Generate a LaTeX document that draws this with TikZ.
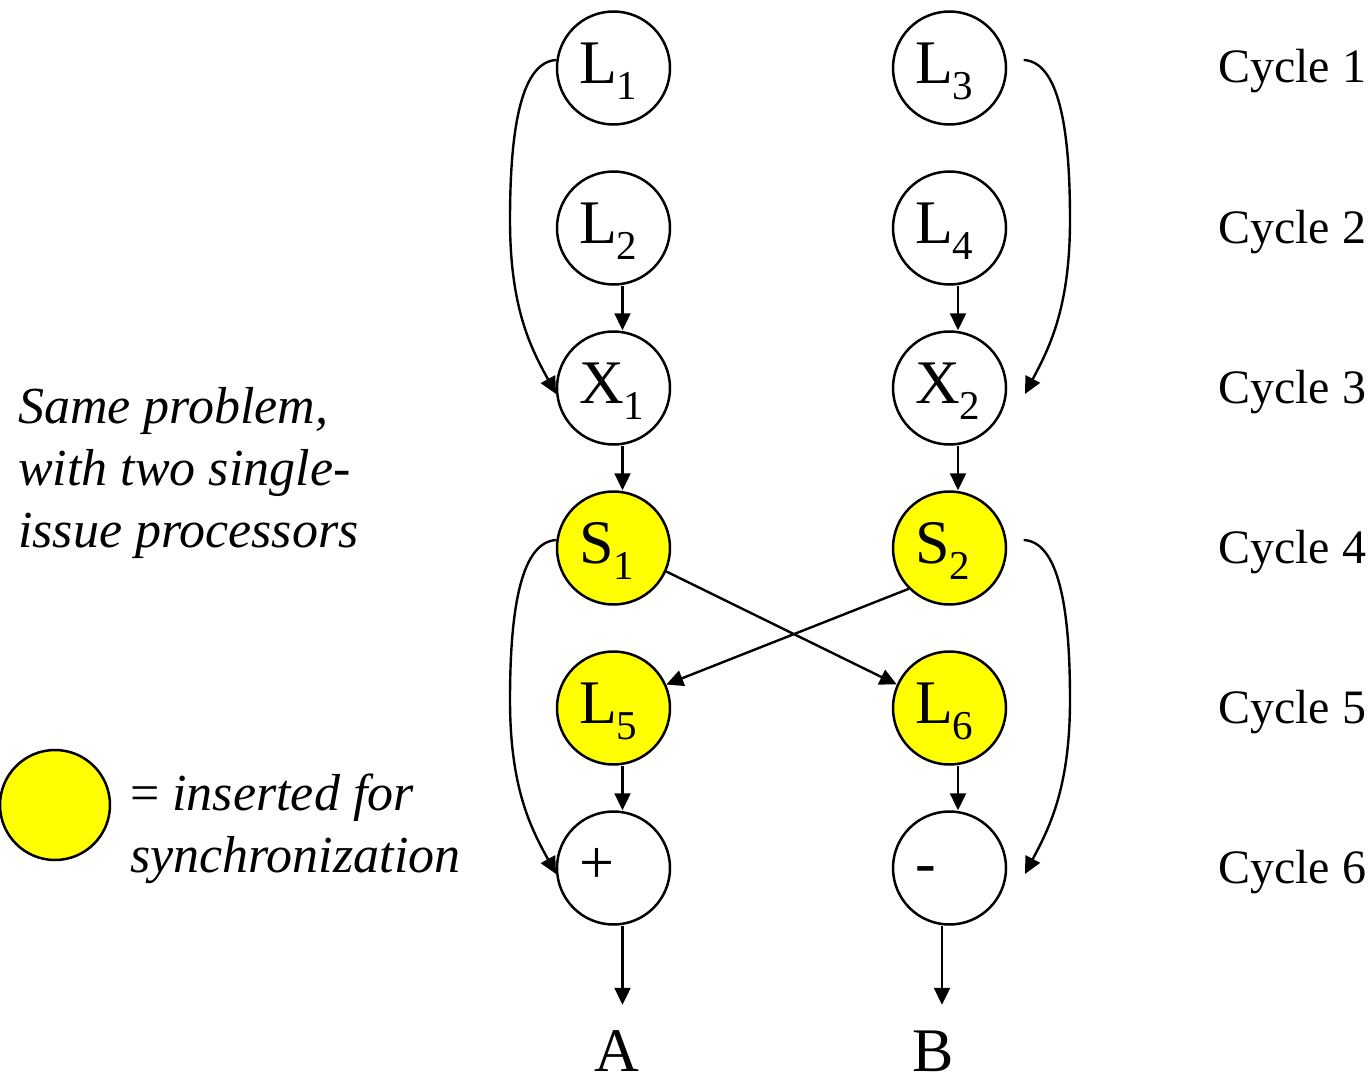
\documentclass[tikz,border=0pt]{standalone}
\usepackage{fontspec}
\setmainfont{Liberation Serif}
\usetikzlibrary{arrows.meta}
\definecolor{syncyellow}{RGB}{255,255,0}
% operation label: main letter with lowered index, baseline set below the circle centre
\newcommand\oplabel[2]{\makebox[69pt][l]{\raisebox{0pt}[46pt][15pt]{#1\raisebox{-16pt}{\fontsize{41}{41}\selectfont #2}}}}
\begin{document}
\begin{tikzpicture}[x=1pt,y=-1pt,
  op/.style={circle, draw, line width=2.5pt, minimum size=113pt, inner sep=0pt,
             font=\fontsize{62}{70}\selectfont},
  sync/.style={op, fill=syncyellow},
  arr/.style={line width=2.4pt, -{Triangle[length=17pt,width=16pt]}},
  cycle/.style={anchor=base west, inner sep=0pt, font=\fontsize{48}{56}\selectfont},
  note/.style={anchor=base west, inner sep=0pt, align=left,
               font=\fontsize{52}{62}\selectfont\itshape},
  result/.style={anchor=base, inner sep=0pt, font=\fontsize{62}{70}\selectfont}]
\path[use as bounding box] (0,0) rectangle (1370,1078);

% processor 1 (left column)
\node[op]   (L1) at (613.5,68)  {\oplabel{L}{1}};
\node[op]   (L2) at (613.5,228) {\oplabel{L}{2}};
\node[op]   (X1) at (613.5,388) {\oplabel{X}{1}};
\node[sync] (S1) at (613.5,548) {\oplabel{S}{1}};
\node[sync] (L5) at (613.5,708) {\oplabel{L}{5}};
\node[op]   (P)  at (613.5,868) {\oplabel{+}{}};

% processor 2 (right column)
\node[op]   (L3) at (949.5,68)  {\oplabel{L}{3}};
\node[op]   (L4) at (949.5,228) {\oplabel{L}{4}};
\node[op]   (X2) at (949.5,388) {\oplabel{X}{2}};
\node[sync] (S2) at (949.5,548) {\oplabel{S}{2}};
\node[sync] (L6) at (949.5,708) {\oplabel{L}{6}};
\node[op]   (M)  at (949.5,868) {\oplabel{-}{}};

% results
\node[result] (A) at (617,1071) {A};
\node[result] (B) at (933,1071) {B};

% cycle numbers
\foreach \k in {1,...,6}
  \node[cycle] (C\k) at (1218,{83+160*(\k-1)}) {Cycle \k};

% side notes (anchored at the baseline of their last line)
\node[note] (txt) at (18,547) {Same problem,\\with two single-\\issue processors};
\node[circle, draw, line width=2.5pt, fill=syncyellow, minimum size=110pt, inner sep=0pt]
  (key) at (55,805) {};
\node[note] (keytxt) at (130,872) {\upshape=\itshape{} inserted for\\synchronization};

% straight dependencies
\draw[arr] ([xshift=9pt]L2.south) -- ([xshift=9pt]X1.north);
\draw[arr] ([xshift=9pt]X1.south) -- ([xshift=9pt]S1.north);
\draw[arr] ([xshift=9pt]L5.south) -- ([xshift=9pt]P.north);
\draw[arr] ([xshift=8.5pt]L4.south) -- ([xshift=8.5pt]X2.north);
\draw[arr] ([xshift=8.5pt]X2.south) -- ([xshift=8.5pt]S2.north);
\draw[arr] ([xshift=8.5pt]L6.south) -- ([xshift=8.5pt]M.north);
\draw[arr] ([xshift=9pt]P.south) -- ([xshift=9pt,yshift=-79pt]P.south);
\draw[arr] ([xshift=-7.5pt]M.south) -- ([xshift=-7.5pt,yshift=-79pt]M.south);

% synchronisation exchange
\draw[arr] (S1.-24) -- (L6.156);
\draw[arr] (S2.225) -- (L5.24);

% long-range dependencies
\draw[arr] (L1.172) .. controls (522,62) and (510,125) .. (510,220)
                    .. controls (510,310) and (532,350) .. (X1.186);
\draw[arr] (S1.172) .. controls (522,542) and (510,605) .. (510,700)
                    .. controls (510,790) and (532,830) .. (P.186);
\draw[arr] ([xshift=17pt]L3.8) .. controls (1058,62) and (1070,125) .. (1070,220)
                    .. controls (1070,310) and (1048,350) .. ([xshift=18pt]X2.354);
\draw[arr] ([xshift=17pt]S2.8) .. controls (1058,542) and (1070,605) .. (1070,700)
                    .. controls (1070,790) and (1048,830) .. ([xshift=18pt]M.354);
\end{tikzpicture}
\end{document}
